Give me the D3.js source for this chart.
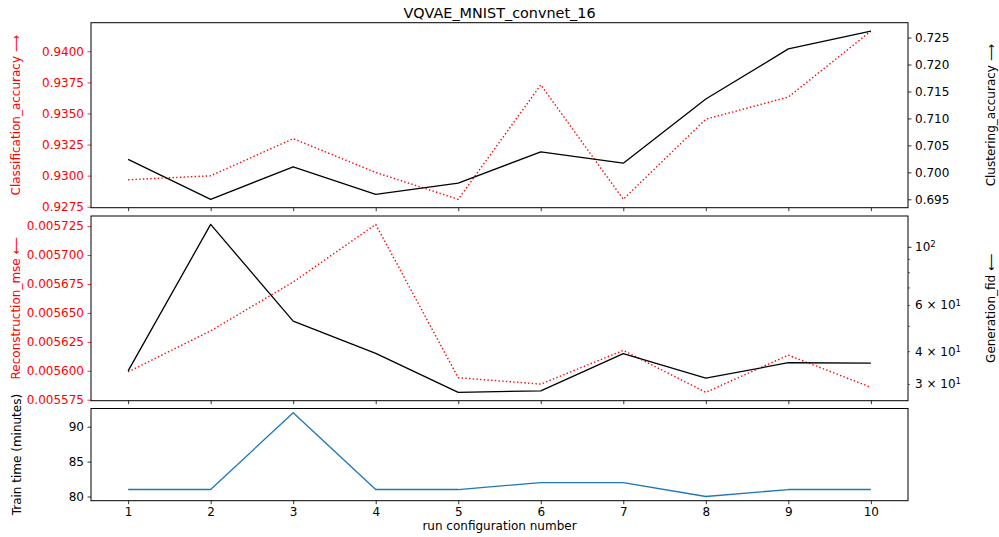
<!DOCTYPE html>
<html>
<head>
<meta charset="utf-8">
<script src="https://cdn.jsdelivr.net/npm/d3@7"></script>
<style>
  body { margin: 0; background: #fff; }
  svg { display: block; font-family: "DejaVu Sans", sans-serif; }
</style>
</head>
<body>
<svg id="chart" width="999" height="537"></svg>
<script>
// ---- data ----
const runs = [1, 2, 3, 4, 5, 6, 7, 8, 9, 10];
const classificationAccuracy = [0.92967, 0.92999, 0.93297, 0.93026, 0.9281, 0.9373, 0.9281, 0.93454, 0.93632, 0.94162];
const clusteringAccuracy = [0.7024, 0.6950, 0.7010, 0.6959, 0.6980, 0.7038, 0.7017, 0.7136, 0.7229, 0.7262];
const reconstructionMse = [0.0055991, 0.0056345, 0.0056767, 0.0057265, 0.005594, 0.0055885, 0.0056176, 0.0055814, 0.0056135, 0.0055857];
const generationFid = [33.8, 122.3, 52.3, 39.4, 28.0, 28.35, 39.3, 31.7, 36.3, 36.2];
const trainTime = [81, 81, 92, 81, 81, 82, 82, 80, 81, 81];

const classTicks = [0.9275, 0.9300, 0.9325, 0.9350, 0.9375, 0.9400];
const clustTicks = [0.695, 0.700, 0.705, 0.710, 0.715, 0.720, 0.725];
const mseTicks = [0.005575, 0.005600, 0.005625, 0.005650, 0.005675, 0.005700, 0.005725];
const fidMajorTicks = [100];
const fidMinorTicks = [30, 40, 50, 60, 70, 80, 90];
const fidLabels = [[100, "10", "2"], [60, "6 × 10", "1"], [40, "4 × 10", "1"], [30, "3 × 10", "1"]];
const timeTicks = [80, 85, 90];

const title = "VQVAE_MNIST_convnet_16";

// ---- layout ----
const svg = d3.select("#chart");
const L = 91, R = 908;
const panels = {
  top: [22.7, 207.7],
  mid: [216, 400.7],
  bot: [408.5, 500.7]
};
const RED = "#ff0000";
const FONT = 12;

function pad(ext) { const d = (ext[1] - ext[0]) * 0.05; return [ext[0] - d, ext[1] + d]; }
function logPad(ext) {
  const a = Math.log10(ext[0]), b = Math.log10(ext[1]), d = (b - a) * 0.05;
  return [Math.pow(10, a - d), Math.pow(10, b + d)];
}

const x = d3.scaleLinear().domain([0.55, 10.45]).range([L, R]);

const yClass = d3.scaleLinear().domain(pad(d3.extent(classificationAccuracy))).range([panels.top[1], panels.top[0]]);
const yClust = d3.scaleLinear().domain(pad(d3.extent(clusteringAccuracy))).range([panels.top[1], panels.top[0]]);
const yMse = d3.scaleLinear().domain(pad(d3.extent(reconstructionMse))).range([panels.mid[1], panels.mid[0]]);
const yFid = d3.scaleLog().domain(logPad(d3.extent(generationFid))).range([panels.mid[1], panels.mid[0]]);
const yTime = d3.scaleLinear().domain(pad(d3.extent(trainTime))).range([panels.bot[1], panels.bot[0]]);

function styleAxis(g, color) {
  g.select(".domain").remove();
  g.selectAll(".tick line").attr("stroke", color).attr("stroke-width", 0.8);
  g.selectAll(".tick text").attr("fill", color).attr("font-size", FONT).attr("font-family", "DejaVu Sans, sans-serif");
}

// x ticks on all panels (labels only at bottom)
[["top", false], ["mid", false], ["bot", true]].forEach(([k, lab]) => {
  const g = svg.append("g").attr("transform", `translate(0,${panels[k][1]})`)
    .call(d3.axisBottom(x).tickValues(runs).tickSize(3.5).tickPadding(3.5)
      .tickFormat(lab ? d3.format("d") : () => ""));
  styleAxis(g, "#000");
});

// top panel
styleAxis(svg.append("g").attr("transform", `translate(${L},0)`)
  .call(d3.axisLeft(yClass).tickValues(classTicks).tickFormat(d3.format(".4f")).tickSize(3.5).tickPadding(3.5)), RED);
styleAxis(svg.append("g").attr("transform", `translate(${R},0)`)
  .call(d3.axisRight(yClust).tickValues(clustTicks).tickFormat(d3.format(".3f")).tickSize(3.5).tickPadding(3.5)), "#000");

// middle panel
styleAxis(svg.append("g").attr("transform", `translate(${L},0)`)
  .call(d3.axisLeft(yMse).tickValues(mseTicks).tickFormat(d3.format(".6f")).tickSize(3.5).tickPadding(3.5)), RED);
{
  const g = svg.append("g");
  g.selectAll("line.maj").data(fidMajorTicks).join("line")
    .attr("x1", R).attr("x2", R + 3.5).attr("y1", d => yFid(d)).attr("y2", d => yFid(d))
    .attr("stroke", "#000").attr("stroke-width", 0.8);
  g.selectAll("line.min").data(fidMinorTicks).join("line")
    .attr("x1", R).attr("x2", R + 2).attr("y1", d => yFid(d)).attr("y2", d => yFid(d))
    .attr("stroke", "#000").attr("stroke-width", 0.6);
  const t = g.selectAll("text").data(fidLabels).join("text")
    .attr("x", R + 7).attr("y", d => yFid(d[0])).attr("dy", "0.32em")
    .attr("font-size", FONT).attr("fill", "#000");
  t.append("tspan").text(d => d[1]);
  t.append("tspan").attr("dy", "-0.45em").attr("font-size", 8.5).text(d => d[2]);
}

// bottom panel
styleAxis(svg.append("g").attr("transform", `translate(${L},0)`)
  .call(d3.axisLeft(yTime).tickValues(timeTicks).tickFormat(d3.format("d")).tickSize(3.5).tickPadding(3.5)), "#000");

// lines
function drawLine(vals, ys, color, dash, w) {
  const line = d3.line().x((d, i) => x(runs[i])).y(d => ys(d));
  svg.append("path").datum(vals).attr("d", line)
    .attr("fill", "none").attr("stroke", color).attr("stroke-width", w)
    .attr("stroke-dasharray", dash).attr("stroke-linejoin", "round");
}
drawLine(classificationAccuracy, yClass, RED, "1.4,2.3", 1.4);
drawLine(clusteringAccuracy, yClust, "#000", null, 1.3);
drawLine(reconstructionMse, yMse, RED, "1.4,2.3", 1.4);
drawLine(generationFid, yFid, "#000", null, 1.3);
drawLine(trainTime, yTime, "#1f77b4", null, 1.3);

// frames
Object.values(panels).forEach(([t, b]) => {
  svg.append("rect").attr("x", L).attr("y", t).attr("width", R - L).attr("height", b - t)
    .attr("fill", "none").attr("stroke", "#000").attr("stroke-width", 1);
});

// title
svg.append("text").attr("x", (L + R) / 2).attr("y", 18).attr("text-anchor", "middle")
  .attr("font-size", 14.4).attr("fill", "#000").text(title);

// axis labels
function vlabel(xp, yc, text, color) {
  svg.append("text").attr("transform", `translate(${xp},${yc}) rotate(-90)`)
    .attr("text-anchor", "middle").attr("dy", "0.35em")
    .attr("font-size", FONT).attr("fill", color).text(text);
}
vlabel(16, (panels.top[0] + panels.top[1]) / 2, "Classification_accuracy ⟶", RED);
vlabel(16, (panels.mid[0] + panels.mid[1]) / 2, "Reconstruction_mse ⟵", RED);
vlabel(17, (panels.bot[0] + panels.bot[1]) / 2, "Train time (minutes)", "#000");
vlabel(991, (panels.top[0] + panels.top[1]) / 2, "Clustering_accuracy ⟶", "#000");
vlabel(991, (panels.mid[0] + panels.mid[1]) / 2, "Generation_fid ⟵", "#000");

svg.append("text").attr("x", (L + R) / 2).attr("y", 530).attr("text-anchor", "middle")
  .attr("font-size", FONT).attr("fill", "#000").text("run configuration number");
</script>
</body>
</html>
